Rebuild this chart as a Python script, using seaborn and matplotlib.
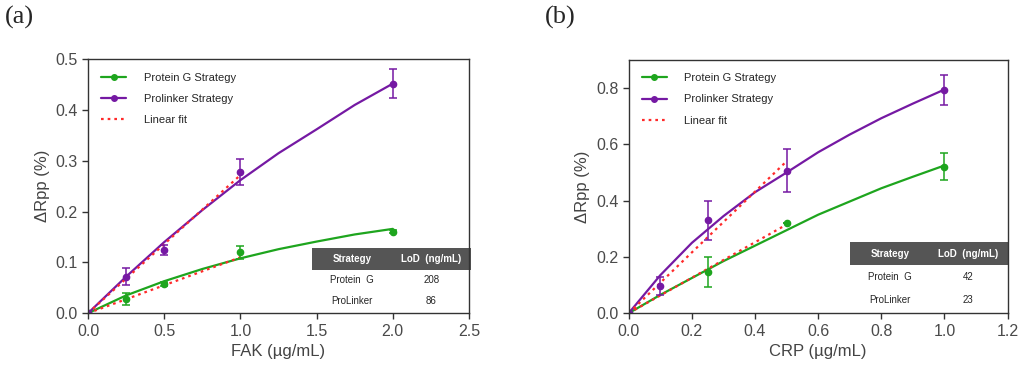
import matplotlib
matplotlib.use("Agg")
import matplotlib.pyplot as plt
from matplotlib.lines import Line2D
import seaborn as sns
import pandas as pd
import numpy as np

sns.set_style("white")
plt.rcParams['font.family'] = ['Liberation Sans', 'DejaVu Sans']

green = "#1ea51e"
purple = "#7519a3"
red = "#ff2a2a"
gray = "#555555"

# ---- panel (a): FAK ----
fak_x = [0, 0.25, 0.5, 1.0, 2.0]
fak_g = [0, 0.028, 0.058, 0.120, 0.160]
fak_g_err = [0, 0.012, 0.004, 0.013, 0.003]
fak_p = [0, 0.072, 0.125, 0.278, 0.452]
fak_p_err = [0, 0.017, 0.010, 0.026, 0.029]
fak_curve_x = [0, 0.25, 0.5, 0.75, 1.0, 1.25, 1.5, 1.75, 2.0]
fak_curve_g = [0, 0.035, 0.063, 0.087, 0.108, 0.126, 0.141, 0.155, 0.166]
fak_curve_p = [0, 0.072, 0.140, 0.203, 0.262, 0.315, 0.362, 0.410, 0.452]
fak_fit_x = [0, 1.0]
fak_fit_g = [0, 0.110]
fak_fit_p = [0, 0.272]
fak_lod = [["Protein  G", "208"], ["ProLinker", "86"]]

# ---- panel (b): CRP ----  (no Protein G point at 0.1)
crp_x = [0, 0.1, 0.25, 0.5, 1.0]
crp_g = [0, np.nan, 0.146, 0.320, 0.521]
crp_g_err = [0, 0.0, 0.053, 0.0, 0.048]
crp_p = [0, 0.098, 0.330, 0.507, 0.793]
crp_p_err = [0, 0.032, 0.069, 0.075, 0.052]
crp_curve_x = [0, 0.1, 0.2, 0.3, 0.4, 0.5, 0.6, 0.7, 0.8, 0.9, 1.0]
crp_curve_g = [0, 0.065, 0.125, 0.185, 0.240, 0.295, 0.350, 0.397, 0.444, 0.485, 0.525]
crp_curve_p = [0, 0.135, 0.250, 0.345, 0.430, 0.500, 0.572, 0.635, 0.693, 0.745, 0.795]
crp_fit_x = [0, 0.5]
crp_fit_g = [0, 0.315]
crp_fit_p = [0, 0.540]
crp_lod = [["Protein  G", "42"], ["ProLinker", "23"]]

fig = plt.figure(figsize=(10.24, 3.68), dpi=100)
ax_a = fig.add_axes([0.086, 0.149, 0.372, 0.69])
ax_b = fig.add_axes([0.614, 0.149, 0.370, 0.688])

dots = (0, (1.2, 1.8))


def draw_panel(ax, x, g, g_err, p, p_err, cx, cg, cp, fx, fg, fp, lod,
               xlim, ylim, xticks, yticks, xlabel, tbl_box):
    sns.lineplot(x=cx, y=cg, ax=ax, color=green, lw=1.6, legend=False)
    sns.lineplot(x=cx, y=cp, ax=ax, color=purple, lw=1.6, legend=False)
    sns.lineplot(x=fx, y=fg, ax=ax, color=red, lw=1.6, linestyle=dots, legend=False)
    sns.lineplot(x=fx, y=fp, ax=ax, color=red, lw=1.6, linestyle=dots, legend=False)
    ax.errorbar(x, g, yerr=g_err, fmt="o", color=green, ms=4.5, capsize=3, elinewidth=1.1, capthick=1.1)
    ax.errorbar(x, p, yerr=p_err, fmt="o", color=purple, ms=4.5, capsize=3, elinewidth=1.1, capthick=1.1)

    ax.set_xlim(*xlim)
    ax.set_ylim(*ylim)
    ax.set_xticks(xticks)
    ax.set_yticks(yticks)
    ax.set_xticklabels([f"{t:.1f}" for t in xticks])
    ax.set_yticklabels([f"{t:.1f}" for t in yticks])
    ax.tick_params(direction="out", length=4, width=1, colors="#333333", labelsize=11.5,
                   bottom=True, left=True, labelcolor="#4a4a4a")
    for s in ax.spines.values():
        s.set_color("#333333")
        s.set_linewidth(1.0)
    ax.set_xlabel(xlabel, fontsize=12, color="#444444")
    ax.set_ylabel("ΔRpp (%)", fontsize=12, color="#444444")

    handles = [
        Line2D([], [], color=green, lw=1.6, marker="o", ms=4),
        Line2D([], [], color=purple, lw=1.6, marker="o", ms=4),
        Line2D([], [], color=red, lw=1.6, linestyle=dots),
    ]
    ax.legend(handles, ["Protein G Strategy", "Prolinker Strategy", "Linear fit"],
              loc="upper left", frameon=False, fontsize=8,
              handlelength=2.2, labelspacing=1.0, borderaxespad=0.8, handletextpad=1.6)

    # LoD table
    tb = ax.table(cellText=lod, colLabels=["Strategy", "LoD  (ng/mL)"],
                  bbox=tbl_box, cellLoc="center", edges="open")
    tb.auto_set_font_size(False)
    for (r, c), cell in tb.get_celld().items():
        cell.set_linewidth(0)
        cell.get_text().set_fontsize(7)
        if r == 0:
            cell.set_facecolor(gray)
            cell.set_edgecolor(gray)
            cell.visible_edges = "closed"
            cell.get_text().set_color("white")
            cell.get_text().set_fontweight("bold")
        else:
            cell.set_facecolor("white")
    tb.set_clip_on(False)


draw_panel(ax_a, fak_x, fak_g, fak_g_err, fak_p, fak_p_err,
           fak_curve_x, fak_curve_g, fak_curve_p, fak_fit_x, fak_fit_g, fak_fit_p, fak_lod,
           (0, 2.5), (0, 0.5), [0, 0.5, 1.0, 1.5, 2.0, 2.5], [0, 0.1, 0.2, 0.3, 0.4, 0.5],
           "FAK (µg/mL)", [0.588, 0.005, 0.418, 0.25])
draw_panel(ax_b, crp_x, crp_g, crp_g_err, crp_p, crp_p_err,
           crp_curve_x, crp_curve_g, crp_curve_p, crp_fit_x, crp_fit_g, crp_fit_p, crp_lod,
           (0, 1.2), (0, 0.9), [0, 0.2, 0.4, 0.6, 0.8, 1.0, 1.2], [0, 0.2, 0.4, 0.6, 0.8],
           "CRP (µg/mL)", [0.585, 0.005, 0.415, 0.275])

fig.text(0.005, 0.985, "(a)", family="Liberation Serif", fontsize=19, va="top", ha="left")
fig.text(0.532, 0.985, "(b)", family="Liberation Serif", fontsize=19, va="top", ha="left")

fig.savefig("out.png", dpi=100)
